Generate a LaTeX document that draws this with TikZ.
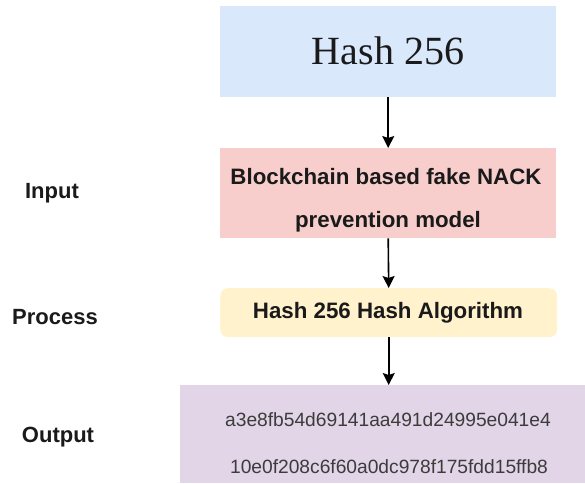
\documentclass[tikz,border=0pt]{standalone}
\usepackage{fontspec}
\setmainfont{Liberation Serif}
\setsansfont{Liberation Sans}
\usetikzlibrary{arrows.meta}
\definecolor{boxblue}{HTML}{DAE8FC}
\definecolor{boxpink}{HTML}{F8CECC}
\definecolor{boxyellow}{HTML}{FFF2CC}
\definecolor{boxpurple}{HTML}{E1D5E7}
\definecolor{ink}{HTML}{1A1A1A}
\tikzset{
  panel/.style={draw=none, inner sep=0pt, anchor=north west},
  flow/.style={line width=1.6pt, draw=black, -{Stealth[width=12pt,length=12pt,inset=2pt]}},
  boldtxt/.style={text=ink, inner sep=0pt, font=\sffamily\bfseries\fontsize{22.3}{26}\selectfont},
  hextxt/.style={text=ink!85, inner sep=0pt, font=\sffamily\fontsize{19.2}{23}\selectfont},
  sidetxt/.style={text=ink, inner sep=0pt, font=\sffamily\bfseries\fontsize{22}{26}\selectfont},
}
\begin{document}
\begin{tikzpicture}[x=1pt, y=-1pt]
  \useasboundingbox (0,0) rectangle (585,483);
  \fill[white] (0,0) rectangle (585,483);

  % boxes of the flow
  \node[panel, fill=boxblue, minimum width=336pt, minimum height=91pt] (hash) at (220,6) {};
  \node[panel, fill=boxpink, minimum width=336pt, minimum height=90pt] (model) at (220,148) {};
  \node[panel, fill=boxyellow, rounded corners=8pt, minimum width=337pt, minimum height=49pt] (algo) at (220,288) {};
  \node[panel, fill=boxpurple, minimum width=405pt, minimum height=98pt] (out) at (180,385) {};

  % texts inside the boxes
  \node[text=ink, inner sep=0pt, font=\fontsize{40}{44}\selectfont] (hasht) at (388,51) {Hash 256};
  \node[boldtxt] (m1) at (386,177) {Blockchain based fake NACK};
  \node[boldtxt] (m2) at (388,222) {prevention model};
  \node[boldtxt] (algot) at (388,313) {Hash 256 Hash Algorithm};
  \node[hextxt] (h1) at (388,420) {a3e8fb54d69141aa491d24995e041e4};
  \node[hextxt] (h2) at (389,467) {10e0f208c6f60a0dc978f175fdd15ffb8};

  % stage labels on the left
  \node[sidetxt] (lin) at (52,193) {Input};
  \node[sidetxt] (lproc) at (55,317) {Process};
  \node[sidetxt] (lout) at (58,437) {Output};

  % connectors
  \draw[flow] (hash.south) -- (model.north);
  \draw[flow] (model.south) -- (algo.north);
  \draw[flow] (algo.south) -- (algo.south |- out.north);
\end{tikzpicture}
\end{document}
